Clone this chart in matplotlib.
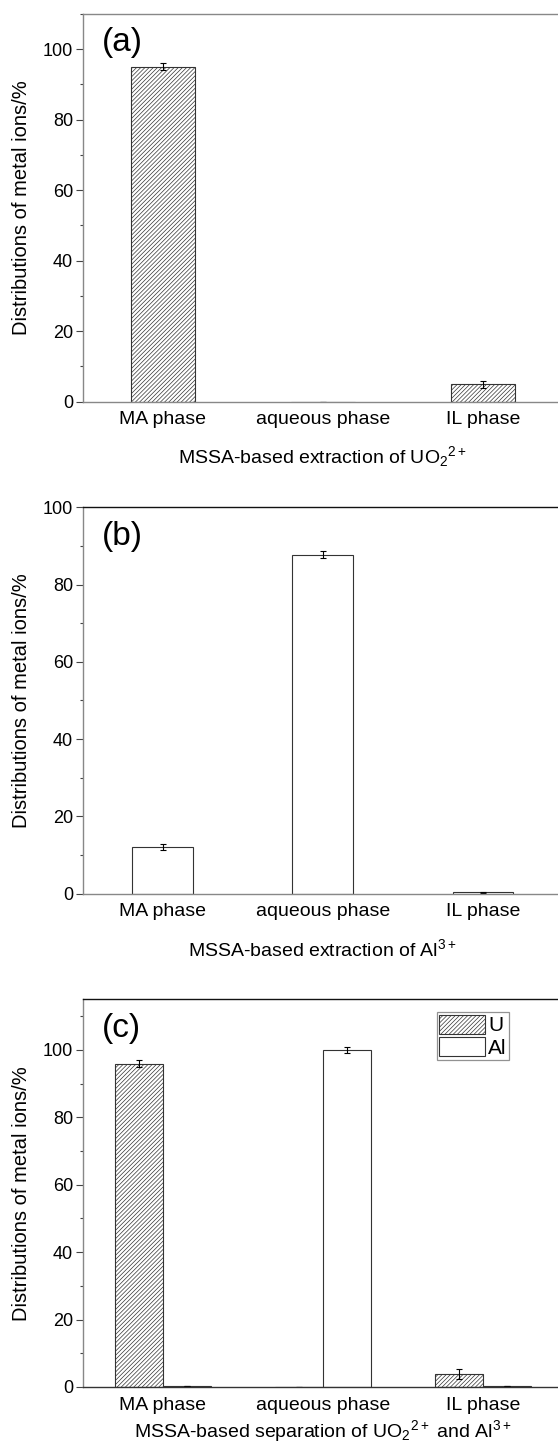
import matplotlib
matplotlib.use('Agg')
import matplotlib.pyplot as plt
import numpy as np

plt.rcParams['font.family'] = ['Liberation Sans', 'DejaVu Sans']
plt.rcParams['mathtext.default'] = 'regular'
plt.rcParams['hatch.linewidth'] = 0.5

phases = ['MA phase', 'aqueous phase', 'IL phase']

# (a) U extraction
u_a = [95.0, 0.0, 4.9]
u_a_err = [1.0, 0.0, 0.9]
# (b) Al extraction
al_b = [12.1, 87.7, 0.3]
al_b_err = [0.7, 0.9, 0.2]
# (c) U/Al separation
u_c = [95.9, 0.0, 3.8]
u_c_err = [1.1, 0.0, 1.5]
al_c = [0.25, 100.0, 0.25]
al_c_err = [0.0, 1.0, 0.0]

xlabels = [r'MSSA-based extraction of UO$_2$$^{2+}$',
           r'MSSA-based extraction of Al$^{3+}$',
           r'MSSA-based separation of UO$_2$$^{2+}$ and Al$^{3+}$']
panel = ['(a)', '(b)', '(c)']
ylims = [110, 100, 115]

fig = plt.figure(figsize=(5.58, 14.52), dpi=100)
left, width = 0.1482, 0.8608
boxes = [(0.7233, 0.2672), (0.3846, 0.2660), (0.04477, 0.2670)]
axs = [fig.add_axes([left, b, width, h]) for b, h in boxes]

x = np.arange(len(phases))
edge = '#333333'
hatch = '////////'
errkw = dict(ecolor='black', elinewidth=0.8, capthick=0.8)

axs[0].bar(x, u_a, 0.4, yerr=u_a_err, color='white', edgecolor=edge, hatch=hatch,
           linewidth=0.8, capsize=2.5, error_kw=errkw)
axs[1].bar(x, al_b, 0.38, yerr=al_b_err, color='white', edgecolor=edge,
           linewidth=0.8, capsize=2.5, error_kw=errkw)
axs[2].bar(x - 0.15, u_c, 0.3, yerr=u_c_err, color='white', edgecolor=edge, hatch=hatch,
           linewidth=0.8, capsize=2.5, error_kw=errkw, label='U')
axs[2].bar(x + 0.15, al_c, 0.3, yerr=al_c_err, color='white', edgecolor=edge,
           linewidth=0.8, capsize=2.5, error_kw=errkw, label='Al')

labelpads = [11, 13, 3]
for i, ax in enumerate(axs):
    ax.set_xlim(-0.5, 2.5)
    ax.set_ylim(0, ylims[i])
    ax.set_xticks(x)
    ax.set_xticklabels(phases, fontsize=14)
    ax.set_yticks(np.arange(0, 101, 20))
    ax.set_yticks(np.arange(10, ylims[i] + 1, 20), minor=True)
    ax.tick_params(axis='x', length=0, pad=7)
    ax.tick_params(axis='y', which='major', length=5, width=0.8, color='#444444',
                   labelsize=13, pad=2)
    ax.tick_params(axis='y', which='minor', length=2.5, width=0.8, color='#444444')
    ax.set_ylabel('Distributions of metal ions/%', fontsize=14.5)
    ax.yaxis.set_label_coords(-0.108, 0.5)
    ax.set_xlabel(xlabels[i], fontsize=14, labelpad=labelpads[i])
    ax.text(0.04, 0.925, panel[i], transform=ax.transAxes, fontsize=24,
            va='center', ha='left')
    ax.spines['right'].set_visible(False)
    ax.spines['left'].set_color('#888888')
    ax.spines['left'].set_linewidth(1.0)
    ax.spines['bottom'].set_linewidth(1.0)
    ax.spines['top'].set_linewidth(1.0)

axs[0].spines['top'].set_color('#888888')
axs[0].spines['bottom'].set_color('#888888')
axs[1].spines['bottom'].set_color('#888888')
axs[1].spines['top'].set_color('#111111')
axs[2].spines['top'].set_color('#111111')
axs[2].spines['bottom'].set_color('#333333')

leg = axs[2].legend(loc='upper right', bbox_to_anchor=(0.888, 0.967), fontsize=15,
                    frameon=True, fancybox=False, edgecolor='#777777',
                    handlelength=2.2, handleheight=1.05, handletextpad=0.15,
                    labelspacing=0.08, borderpad=0.12, borderaxespad=0)
leg.get_frame().set_linewidth(0.9)

fig.savefig('out.png', dpi=100)
